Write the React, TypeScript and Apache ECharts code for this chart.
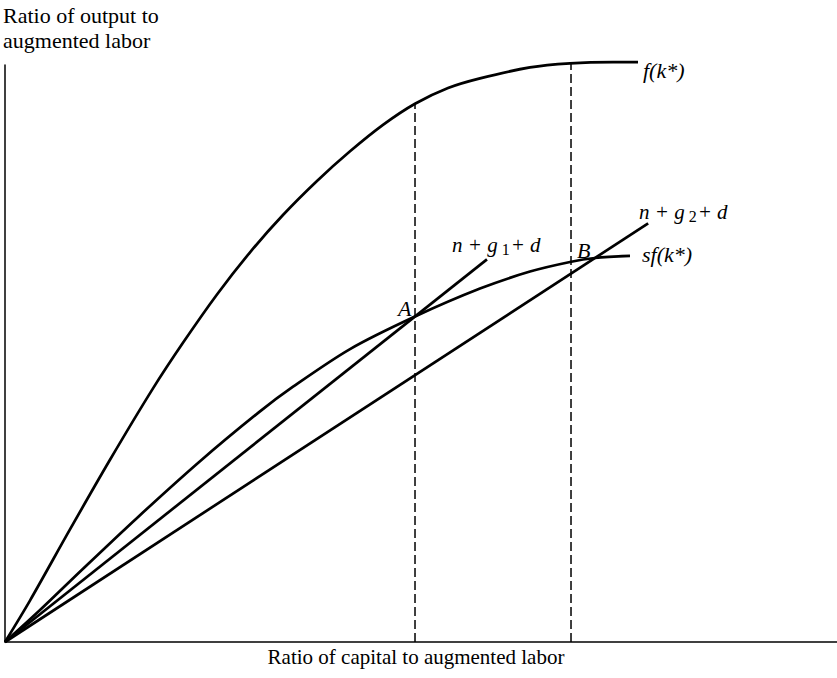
import React, { useEffect, useRef } from "react";
import * as echarts from "echarts";

// Production function f(k*) (abstract units)
const fCurve: [number, number][] = [
  [0, 0], [3.0, 7.18], [7.81, 19.51], [12.62, 31.58], [17.79, 43.95], [21.39, 51.85],
  [25.48, 60.23], [29.45, 67.54], [33.41, 74.0], [37.5, 79.9], [41.47, 85.04],
  [45.43, 89.62], [49.28, 93.28], [53.25, 96.01], [57.09, 97.68], [63.1, 99.58],
  [67.91, 100.28], [73.08, 100.5], [76.08, 100.5],
];
// Saving curve sf(k*)
const sfCurve: [number, number][] = [
  [0, 0], [4.21, 5.55], [9.38, 12.7], [15.87, 21.51], [23.44, 31.33], [30.65, 39.97],
  [34.62, 44.25], [41.47, 50.77], [49.28, 56.41], [57.09, 61.25], [63.1, 64.2],
  [67.91, 65.86], [70.91, 66.55], [75.12, 66.92],
];
// Break-even lines
const lineG1: [number, number][] = [[0, 0], [57.93, 66.31]];
const lineG2: [number, number][] = [[0, 0], [77.3, 72.55]];
// Steady states A and B (dashed drop lines)
const dashA: [number, number][] = [[49.28, 0], [49.28, 93.28]];
const dashB: [number, number][] = [[68.03, 0], [68.03, 100.28]];

const yTitle = ["Ratio of output to", "augmented labor"];
const xTitle = "Ratio of capital to augmented labor";
const fLabel = "f(k*)";
const sfLabel = "sf(k*)";
const g1Label = ["n + g", "1", "+ d"];
const g2Label = ["n + g", "2", "+ d"];
const pointA = "A";
const pointB = "B";

const FONT = "'Liberation Serif', 'DejaVu Serif', serif";

export default function App() {
  const ref = useRef<HTMLDivElement>(null);
  useEffect(() => {
    if (!ref.current) return;
    const chart = echarts.init(ref.current, undefined, { renderer: "svg" });
    const solid = (data: [number, number][], smooth: boolean) => ({
      type: "line",
      data,
      showSymbol: false,
      symbol: "none",
      smooth: smooth ? 0.3 : false,
      clip: false,
      lineStyle: { color: "#000", width: 2.7 },
      z: 3,
    });
    const dashed = (data: [number, number][]) => ({
      type: "line",
      data,
      showSymbol: false,
      symbol: "none",
      clip: false,
      lineStyle: { color: "#000", width: 1.5, type: [9, 4] },
      z: 2,
    });
    const ital = { fontSize: 22, fontStyle: "italic", fontFamily: FONT, fill: "#000" };
    const rich = {
      a: { fontSize: 21, fontStyle: "italic", fontFamily: FONT, color: "#000" },
      b: { fontSize: 16, fontFamily: FONT, color: "#000", padding: [9, 1, 0, 4] },
    };
    chart.setOption({
      animation: false,
      grid: { left: 5, right: 0, top: 65, bottom: 36, containLabel: false },
      xAxis: {
        type: "value", min: 0, max: 100,
        axisLine: { show: true, onZero: false, lineStyle: { color: "#000", width: 1.5 } },
        axisTick: { show: false }, axisLabel: { show: false }, splitLine: { show: false },
      },
      yAxis: {
        type: "value", min: 0, max: 100,
        axisLine: { show: true, onZero: false, lineStyle: { color: "#000", width: 1.5 } },
        axisTick: { show: false }, axisLabel: { show: false }, splitLine: { show: false },
      },
      series: [
        solid(fCurve, true),
        solid(sfCurve, true),
        solid(lineG1, false),
        solid(lineG2, false),
        dashed(dashA),
        dashed(dashB),
      ],
      graphic: [
        {
          type: "text", left: 3, top: 3,
          style: { text: yTitle.join("\n"), fontSize: 22, fontFamily: FONT, fill: "#000", lineHeight: 25 },
        },
        {
          type: "text", x: 416, y: 657,
          style: { text: xTitle, fontSize: 21, fontFamily: FONT, fill: "#000", align: "center", verticalAlign: "middle" },
        },
        { type: "text", x: 643, y: 70, style: { ...ital, text: fLabel, verticalAlign: "middle" } },
        { type: "text", x: 642, y: 254, style: { ...ital, text: sfLabel, verticalAlign: "middle" } },
        { type: "text", x: 398, y: 308, style: { ...ital, text: pointA, verticalAlign: "middle" } },
        { type: "text", x: 577, y: 250, style: { ...ital, text: pointB, verticalAlign: "middle" } },
        {
          type: "text", x: 452, y: 245,
          style: { text: `{a|${g1Label[0]}}{b|${g1Label[1]}}{a|${g1Label[2]}}`, rich, verticalAlign: "middle" },
        },
        {
          type: "text", x: 639, y: 212,
          style: { text: `{a|${g2Label[0]}}{b|${g2Label[1]}}{a|${g2Label[2]}}`, rich, verticalAlign: "middle" },
        },
      ],
    });
    return () => chart.dispose();
  }, []);
  return <div ref={ref} style={{ width: 837, height: 678, position: "absolute", left: 0, top: 0, background: "#fff" }} />;
}
